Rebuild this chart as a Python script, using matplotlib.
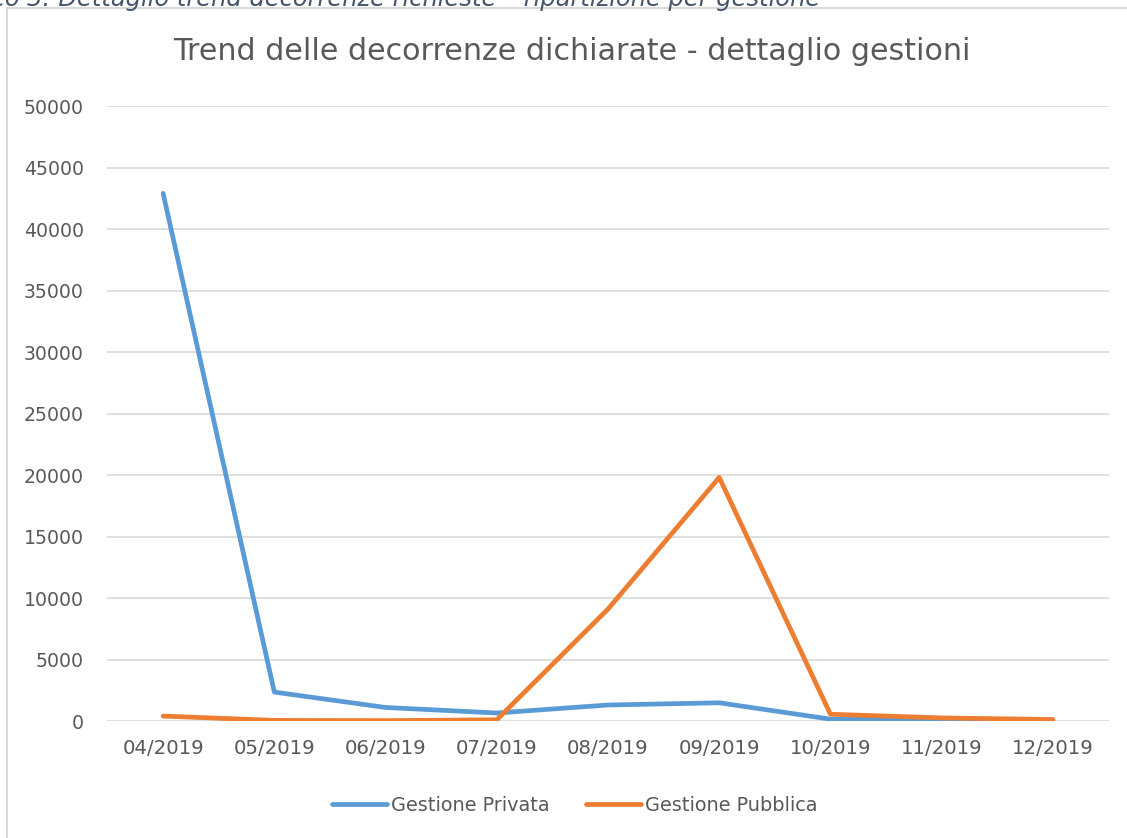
import matplotlib
matplotlib.use("Agg")
import matplotlib.pyplot as plt
from matplotlib.patches import Rectangle

categories = ["04/2019", "05/2019", "06/2019", "07/2019", "08/2019",
              "09/2019", "10/2019", "11/2019", "12/2019"]
privata = [42900, 2350, 1100, 650, 1300, 1480, 150, 100, 50]
pubblica = [400, 50, 30, 100, 9100, 19800, 550, 250, 120]
series_names = ["Gestione Privata", "Gestione Pubblica"]
yticks = list(range(0, 50001, 5000))

W, H = 1127, 838
fig = plt.figure(figsize=(W / 100, H / 100), dpi=100)
fig.patch.set_facecolor("white")

FONT = "DejaVu Sans"
TXT = "#595959"

# outer chart frame
fig.patches.append(Rectangle((7 / W, -0.05), 1.2, (H - 8) / H + 0.05,
                             transform=fig.transFigure, fill=False,
                             edgecolor="#D9D9D9", linewidth=1.5))

# caption partly clipped by the top edge (as in the reference)
fig.text(820 / W, (H - 6) / H,
         "Grafico 3: Dettaglio trend decorrenze richieste \u2013 ripartizione per gestione",
         ha="right", va="baseline", fontsize=17.4, style="italic",
         color="#44546A", family=FONT)

ax = fig.add_axes([107.5 / W, 117 / H, 1001 / W, 615 / H])
x = list(range(len(categories)))
ax.plot(x, privata, color="#5B9BD5", linewidth=3.4, solid_capstyle="round",
        solid_joinstyle="round", label=series_names[0], zorder=3)
ax.plot(x, pubblica, color="#ED7D31", linewidth=3.4, solid_capstyle="round",
        solid_joinstyle="round", label=series_names[1], zorder=3)

ax.set_xlim(-0.5, len(categories) - 0.5)
ax.set_ylim(0, 50000)
ax.set_yticks(yticks)
ax.set_yticklabels([str(v) for v in yticks])
ax.set_xticks(x)
ax.set_xticklabels(categories)
ax.grid(axis="y", color="#D9D9D9", linewidth=1.2)
ax.set_axisbelow(True)
for s in ax.spines.values():
    s.set_visible(False)
ax.tick_params(axis="both", length=0, colors=TXT)
ax.tick_params(axis="y", pad=17, labelsize=13.6)
ax.tick_params(axis="x", pad=13, labelsize=14.2)
for lbl in ax.get_xticklabels() + ax.get_yticklabels():
    lbl.set_family(FONT)

fig.text(572 / W, (H - 52) / H,
         "Trend delle decorrenze dichiarate - dettaglio gestioni",
         ha="center", va="center", fontsize=21.7, color=TXT, family=FONT)

fig.legend(loc="center", bbox_to_anchor=(575 / W, 33 / H), ncol=2,
           frameon=False, prop={"family": FONT, "size": 13.9},
           labelcolor=TXT, handlelength=2.85, handletextpad=0.2,
           columnspacing=1.9)

fig.savefig("out.png", dpi=100, facecolor="white")
